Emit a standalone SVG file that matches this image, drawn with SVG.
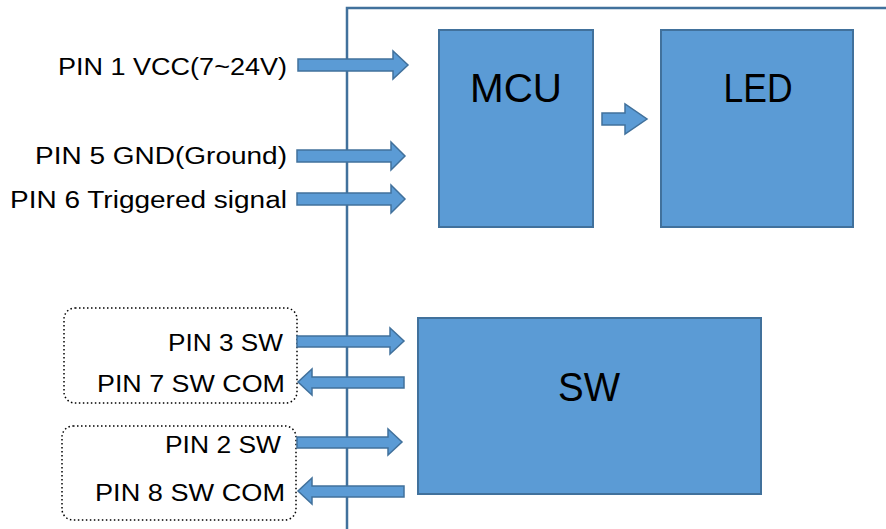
<svg xmlns="http://www.w3.org/2000/svg" width="886" height="529" viewBox="0 0 886 529">
<style>
.box{fill:#5B9BD5;stroke:#41719C;stroke-width:2}
.arr{fill:#5B9BD5;stroke:#41719C;stroke-width:1.5}
.line{fill:none;stroke:#41719C;stroke-width:2.5}
.dot{fill:none;stroke:#000;stroke-width:1.5;stroke-dasharray:1.5 2.5}
.lbl{font-family:"Liberation Sans",Arial,sans-serif;font-size:23px;fill:#000;text-anchor:end}
.big{font-family:"Liberation Sans",Arial,sans-serif;font-size:40px;fill:#000;text-anchor:middle}
</style>
<rect width="886" height="529" fill="#fff"/>
<g id="frame">
<path class="line" d="M347 529 V8 H886"/>
</g>
<g id="mcu">
<rect class="box" x="439" y="30" width="154" height="197"/>
<text class="big" x="516" y="102" textLength="92" lengthAdjust="spacingAndGlyphs">MCU</text>
</g>
<g id="led">
<rect class="box" x="661" y="30" width="192" height="197"/>
<text class="big" x="758" y="102" textLength="69" lengthAdjust="spacingAndGlyphs">LED</text>
</g>
<g id="sw">
<rect class="box" x="418" y="318" width="343" height="176"/>
<text class="big" x="589" y="401" textLength="62" lengthAdjust="spacingAndGlyphs">SW</text>
</g>
<g id="labels">
<text class="lbl" x="287" y="75" textLength="229" lengthAdjust="spacingAndGlyphs">PIN 1 VCC(7~24V)</text>
<text class="lbl" x="287" y="164" textLength="252" lengthAdjust="spacingAndGlyphs">PIN 5 GND(Ground)</text>
<text class="lbl" x="287" y="208" textLength="277" lengthAdjust="spacingAndGlyphs">PIN 6 Triggered signal</text>
</g>
<g id="group1">
<rect class="dot" x="64" y="308" width="233" height="95" rx="11"/>
<text class="lbl" x="283" y="351" textLength="115" lengthAdjust="spacingAndGlyphs">PIN 3 SW</text>
<text class="lbl" x="285" y="392" textLength="188" lengthAdjust="spacingAndGlyphs">PIN 7 SW COM</text>
</g>
<g id="group2">
<rect class="dot" x="62" y="426" width="234" height="94" rx="11"/>
<text class="lbl" x="281" y="453" textLength="116" lengthAdjust="spacingAndGlyphs">PIN 2 SW</text>
<text class="lbl" x="285" y="501" textLength="190" lengthAdjust="spacingAndGlyphs">PIN 8 SW COM</text>
</g>
<g id="connectors">
<path class="arr" d="M298 59 H393 V51 L408 65 L393 79 V71 H298 Z"/>
<path class="arr" d="M297 150 H391 V142 L405 156 L391 170 V162 H297 Z"/>
<path class="arr" d="M297 193 H391 V185 L405 199 L391 213 V205 H297 Z"/>
<path class="arr" d="M297 336 H390 V328 L404 341 L390 354 V347 H297 Z"/>
<path class="arr" d="M404 377 H312 V369 L298 382 L312 395 V388 H404 Z"/>
<path class="arr" d="M297 437 H388 V429 L402 442 L388 455 V448 H297 Z"/>
<path class="arr" d="M404 486 H312 V478 L298 491 L312 504 V497 H404 Z"/>
<path class="arr" d="M602 113 H625 V104 L647 119 L625 134 V125 H602 Z"/>
</g>
</svg>
